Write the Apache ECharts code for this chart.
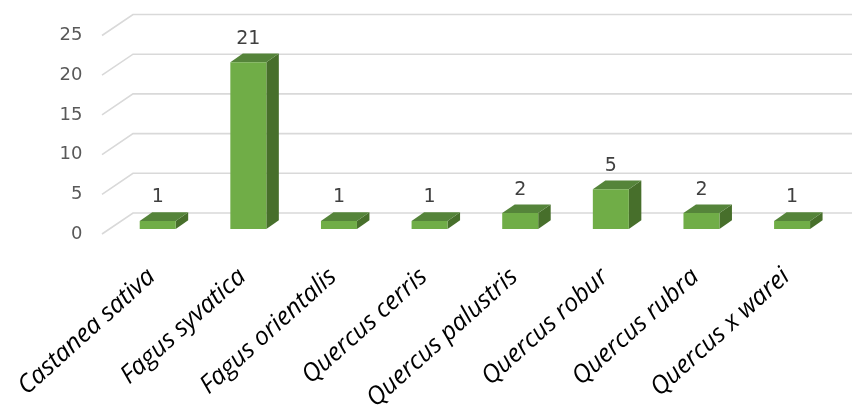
<!DOCTYPE html>
<html>
<head>
<meta charset="utf-8">
<script src="https://cdn.jsdelivr.net/npm/echarts@6/dist/echarts.min.js"></script>
<style>
  html, body { margin: 0; padding: 0; background: #ffffff; }
  #chart { width: 852px; height: 405px; }
</style>
</head>
<body>
<div id="chart"></div>
<script>
// Tree species and their counts
const categories = ['Castanea sativa', 'Fagus syvatica', 'Fagus orientalis', 'Quercus cerris',
                    'Quercus palustris', 'Quercus robur', 'Quercus rubra', 'Quercus x warei'];
const counts = [1, 21, 1, 1, 2, 5, 2, 1];
const yTicks = [0, 5, 10, 15, 20, 25];

// 3D look: depth of the box walls and of each column (pixels)
const WALL_DX = 31, WALL_DY = -21, WALL_INSET = 10.4;
const BAR_HALF = 18, BAR_DX = 12.5, BAR_DY = -8.7, BAR_LIFT = 5;

const chart = echarts.init(document.getElementById('chart'), null, { renderer: 'canvas' });

const option = {
  backgroundColor: '#ffffff',
  animation: false,
  grid: { left: 112.4, width: 725, top: 35.5, bottom: 171, containLabel: false, outerBoundsMode: 'none' },
  xAxis: {
    type: 'category',
    data: categories,
    axisLine: { show: false },
    axisTick: { show: false },
    splitLine: { show: false },
    axisLabel: {
      interval: 0,
      rotate: 42,
      margin: 34,
      padding: [0, 8, 0, 0],
      fontSize: 25,
      fontStyle: 'italic',
      fontFamily: 'Open Sans',
      color: '#000000'
    }
  },
  yAxis: {
    type: 'value',
    min: 0,
    max: 25,
    interval: 5,
    axisLine: { show: false },
    axisTick: { show: false },
    splitLine: { show: false },
    axisLabel: {
      margin: 30,
      fontSize: 18,
      fontFamily: 'DejaVu Sans',
      color: '#595959'
    }
  },
  series: [
    {
      // floor/side/back wall gridlines
      type: 'custom',
      z: 1,
      silent: true,
      data: yTicks.map(v => [0, v]),
      renderItem: function (params, api) {
        const p = api.coord([api.value(0), api.value(1)]);
        const band = api.size([1, 0])[0];
        const fx = p[0] - band / 2 - WALL_INSET;
        return {
          type: 'polyline',
          shape: {
            points: [[fx, p[1]], [fx + WALL_DX, p[1] + WALL_DY], [900, p[1] + WALL_DY]]
          },
          style: { stroke: '#d9d9d9', lineWidth: 1.6, fill: null }
        };
      }
    },
    {
      // 3D columns with value labels
      type: 'custom',
      z: 2,
      data: counts.map((v, i) => [i, v]),
      renderItem: function (params, api) {
        const i = api.value(0), v = api.value(1);
        const top = api.coord([i, v]);
        const base = api.coord([i, 0]);
        const x0 = top[0] - BAR_HALF, x1 = top[0] + BAR_HALF;
        const yt = top[1] - BAR_LIFT, yb = base[1] - BAR_LIFT;
        return {
          type: 'group',
          children: [
            {
              type: 'polygon',
              shape: { points: [[x1, yt], [x1 + BAR_DX, yt + BAR_DY], [x1 + BAR_DX, yb + BAR_DY], [x1, yb]] },
              style: { fill: '#476f2b' }
            },
            {
              type: 'polygon',
              shape: { points: [[x0, yt], [x1, yt], [x1 + BAR_DX, yt + BAR_DY], [x0 + BAR_DX, yt + BAR_DY]] },
              style: { fill: '#55843a' }
            },
            {
              type: 'rect',
              shape: { x: x0, y: yt, width: x1 - x0, height: yb - yt },
              style: { fill: '#70ad47' }
            },
            {
              type: 'text',
              style: {
                x: top[0],
                y: yt - 14,
                text: String(v),
                align: 'center',
                verticalAlign: 'bottom',
                fontSize: 19,
                fontFamily: 'DejaVu Sans',
                fill: '#404040'
              }
            }
          ]
        };
      }
    }
  ]
};

chart.setOption(option);
</script>
</body>
</html>
